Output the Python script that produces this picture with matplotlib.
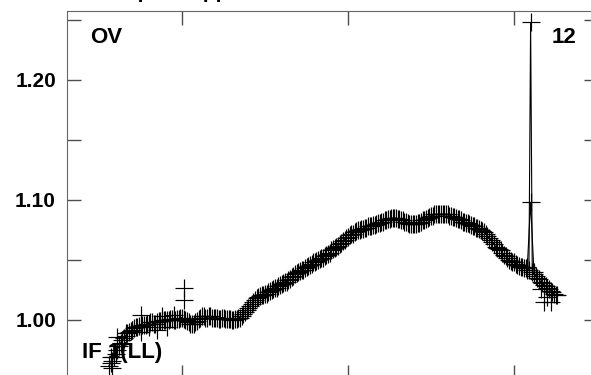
import numpy as np
import matplotlib; matplotlib.use("Agg")
import matplotlib.pyplot as plt
from matplotlib.ticker import FixedLocator, FuncFormatter

plt.rcParams["font.family"] = ["Liberation Sans", "DejaVu Sans"]
plt.rcParams["font.weight"] = "bold"

# channel axis and normalised amplitude, one value per channel
chan = np.arange(56, 327)
amp = [0.962, 0.964, 0.966, 0.969, 0.972, 0.975, 0.978, 0.981, 0.983, 0.985,
       0.987, 0.989, 0.990, 0.991, 0.992, 0.993, 0.994, 0.994, 0.995, 0.995,
       0.996, 0.996, 0.996, 0.997, 0.997, 0.998, 0.998, 0.997, 0.997, 0.998,
       0.999, 0.999, 0.999, 1.000, 1.000, 1.000, 1.000, 1.001, 1.001, 1.000,
       1.000, 1.001, 1.001, 1.002, 1.002, 1.001, 1.000, 0.999, 0.998, 0.997,
       0.997, 0.997, 0.998, 0.999, 1.001, 1.002, 1.003, 1.003, 1.002, 1.002,
       1.003, 1.003, 1.002, 1.002, 1.002, 1.002, 1.001, 1.001, 1.002, 1.002,
       1.001, 1.001, 1.001, 1.001, 1.000, 1.000, 1.001, 1.001, 1.002, 1.002,
       1.003, 1.005, 1.007, 1.008, 1.010, 1.012, 1.013, 1.015, 1.017, 1.018,
       1.019, 1.020, 1.021, 1.021, 1.022, 1.022, 1.023, 1.024, 1.025, 1.026,
       1.027, 1.027, 1.028, 1.029, 1.030, 1.031, 1.032, 1.032, 1.033, 1.034,
       1.036, 1.037, 1.038, 1.039, 1.040, 1.041, 1.042, 1.042, 1.043, 1.044,
       1.045, 1.046, 1.047, 1.048, 1.048, 1.049, 1.050, 1.051, 1.052, 1.052,
       1.053, 1.054, 1.055, 1.056, 1.058, 1.059, 1.060, 1.061, 1.062, 1.063,
       1.064, 1.066, 1.067, 1.068, 1.069, 1.071, 1.072, 1.072, 1.073, 1.074,
       1.075, 1.075, 1.076, 1.076, 1.077, 1.077, 1.078, 1.078, 1.078, 1.079,
       1.079, 1.080, 1.081, 1.081, 1.082, 1.082, 1.083, 1.083, 1.084, 1.084,
       1.085, 1.085, 1.085, 1.085, 1.084, 1.084, 1.083, 1.083, 1.082, 1.082,
       1.081, 1.080, 1.080, 1.080, 1.080, 1.080, 1.081, 1.081, 1.082, 1.083,
       1.083, 1.084, 1.085, 1.086, 1.087, 1.087, 1.088, 1.088, 1.088, 1.088,
       1.088, 1.088, 1.088, 1.088, 1.088, 1.087, 1.087, 1.086, 1.086, 1.085,
       1.084, 1.084, 1.083, 1.082, 1.082, 1.081, 1.081, 1.080, 1.079, 1.078,
       1.078, 1.077, 1.077, 1.076, 1.075, 1.074, 1.073, 1.072, 1.070, 1.068,
       1.067, 1.065, 1.063, 1.061, 1.060, 1.059, 1.058, 1.056, 1.054, 1.053,
       1.052, 1.050, 1.049, 1.048, 1.048, 1.047, 1.046, 1.045, 1.044, 1.044,
       1.043, 1.043, 1.042, 1.042, 1.248, 1.040, 1.038, 1.037, 1.035, 1.034,
       1.032, 1.031, 1.029, 1.028, 1.027, 1.026, 1.024, 1.023, 1.022, 1.021, 1.021]

# stray points from the overlaid spectra
extra_chan = [57, 58, 61, 64, 66, 70, 75, 75, 80, 85, 88, 91, 95, 101, 101,
              316, 318, 320, 322]
extra_amp = [0.969, 0.960, 0.986, 0.980, 0.989, 0.992, 1.004, 0.990, 0.994, 0.992,
             1.003, 0.994, 1.004, 1.027, 1.017, 1.026, 1.015, 1.019, 1.015]
spike_chan = [308, 310, 312]
spike_amp = [1.044, 1.098, 1.040]

fig = plt.figure(figsize=(5.91, 3.75), dpi=100)
ax = fig.add_axes([67 / 591, 1 - 379 / 375, 531 / 591, 368 / 375])

mk = dict(color="k", marker="+", ms=13, mew=0.85, lw=0.8)
ax.plot(chan, amp, **mk)
ax.plot(spike_chan, spike_amp, **mk)
ax.plot(extra_chan, extra_amp, ls="none", **{k: v for k, v in mk.items() if k != "lw"})

ax.set_xlim(30.7, 350.6)
ax.set_ylim(0.9508, 1.2575)

ax.xaxis.set_major_locator(FixedLocator([100, 200, 300]))
ax.yaxis.set_major_locator(FixedLocator([1.00, 1.05, 1.10, 1.15, 1.20, 1.25]))
ax.yaxis.set_major_formatter(FuncFormatter(
    lambda v, p: f"{v:.2f}" if abs(round(v * 10) - v * 10) < 1e-6 else ""))
ax.tick_params(direction="in", length=10, width=1, color="0.3",
               top=True, right=True, labelbottom=False, labelsize=15, pad=8)
for s in ax.spines.values():
    s.set_color("0.4")
for t in ax.get_yticklabels():
    t.set_fontweight("bold")

ax.text(0.0433, 0.913, "OV", transform=ax.transAxes, fontsize=16, fontweight="bold")
ax.text(0.960, 0.913, "12", transform=ax.transAxes, fontsize=16, fontweight="bold", ha="right")
ax.text(0.028, 0.057, "IF 1(LL)", transform=ax.transAxes, fontsize=16, fontweight="bold")

fig.text(265 / 591, 1 + 2.5 / 375, "Signal after bandpass applied", ha="right",
         va="baseline", fontsize=15, fontweight="bold")

fig.savefig("out.png", dpi=100)
